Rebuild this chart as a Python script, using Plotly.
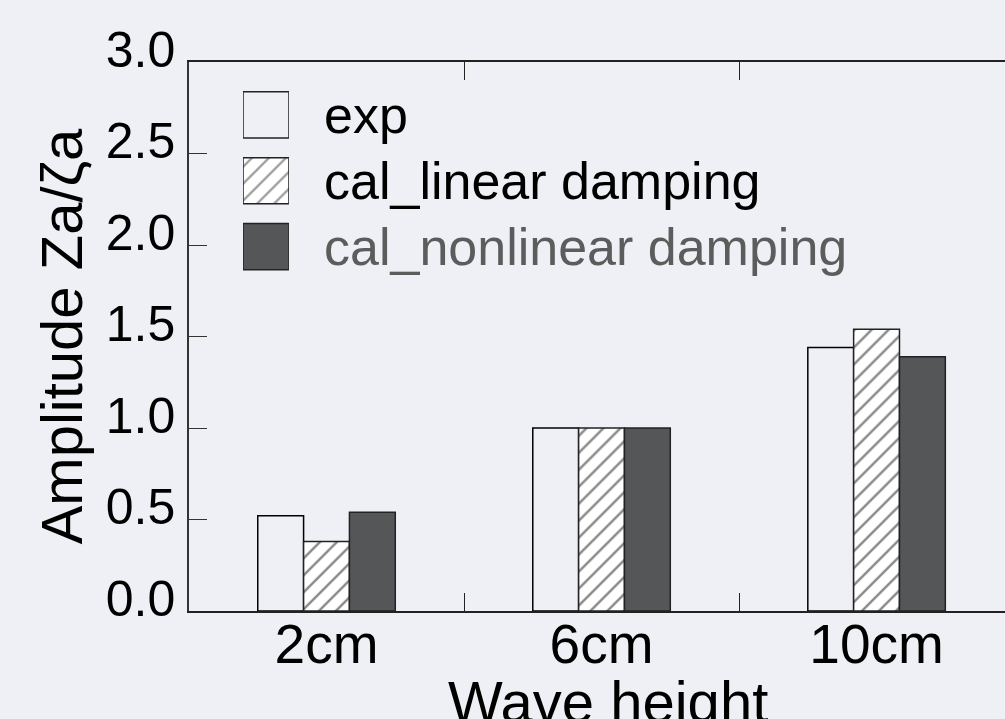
import plotly.graph_objects as go

# Wave heights tested
categories = ["2cm", "6cm", "10cm"]

# Heave amplitude ratio Za/ζa per wave height
exp_vals = [0.52, 1.00, 1.44]
cal_linear_vals = [0.38, 1.00, 1.54]
cal_nonlinear_vals = [0.54, 1.00, 1.39]

series_names = ["exp", "cal_linear damping", "cal_nonlinear damping"]
y_ticks = [0.0, 0.5, 1.0, 1.5, 2.0, 2.5, 3.0]

BG = "#eff0f5"
DARK = "#555658"
FONT = "Arial, Liberation Sans, sans-serif"

HATCH = dict(shape="/", bgcolor="white", fgcolor="#111", size=12, solidity=0.2)

styles = {
    "exp": dict(color=BG, line=dict(color="black", width=1.5)),
    "cal_linear damping": dict(color="white", line=dict(color="#222", width=1.5),
                               pattern=HATCH),
    "cal_nonlinear damping": dict(color=DARK, line=dict(color="#222", width=1.5)),
}

fig = go.Figure()

for name, vals in zip(series_names, [exp_vals, cal_linear_vals, cal_nonlinear_vals]):
    fig.add_trace(go.Bar(
        x=categories, y=vals, name=name, marker=styles[name],
        xaxis="x", yaxis="y", showlegend=False,
    ))

# Legend key: one unit-length horizontal bar per series on its own small axes
fig.add_trace(go.Bar(
    y=series_names, x=[1, 1, 1], orientation="h", width=0.7,
    marker=dict(
        color=[BG, "white", DARK],
        line=dict(color="#222", width=1.5),
        pattern=dict(shape=["", "/", ""], bgcolor="white", fgcolor="#111",
                     size=12, solidity=0.2),
    ),
    xaxis="x2", yaxis="y2", showlegend=False, hoverinfo="skip",
))

label_colors = {"exp": "black", "cal_linear damping": "black",
                "cal_nonlinear damping": "#5c5c5c"}
for name in series_names:
    fig.add_annotation(
        text=name, xref="paper", x=0.163, yref="y2", y=name,
        xanchor="left", yanchor="middle", showarrow=False,
        font=dict(size=52, color=label_colors[name], family=FONT),
    )

# x-axis title sits low, running off the bottom edge of the page
fig.add_annotation(
    text="Wave height", xref="paper", x=0.5135, yref="paper", y=-0.164,
    xanchor="center", yanchor="middle", showarrow=False,
    font=dict(size=58, family=FONT, color="black"),
)

fig.update_layout(
    width=1005, height=719,
    margin=dict(l=189, r=0, t=62, b=108, autoexpand=False),
    paper_bgcolor=BG, plot_bgcolor=BG,
    barmode="group", bargap=0.5, bargroupgap=0,
    font=dict(family=FONT, color="black"),
    showlegend=False,
    xaxis=dict(
        type="category", range=[-0.5, 2.467], automargin=False,
        tickson="boundaries", ticks="inside", ticklen=18, tickwidth=1.2,
        tickcolor="#222", showline=True, linecolor="#222", linewidth=1.5,
        mirror="ticks", showgrid=False, zeroline=False, ticklabelstandoff=-16,
        tickfont=dict(size=55, family=FONT, color="black"),
    ),
    yaxis=dict(
        range=[0, 3], tickvals=y_ticks, tickformat=".1f", automargin=False,
        ticks="inside", ticklen=18, tickwidth=1.2, tickcolor="#333",
        showline=True, linecolor="#333", linewidth=1.5,
        showgrid=False, zeroline=False, ticklabelstandoff=2, ticklabelshift=-13,
        tickfont=dict(size=50, family=FONT, color="black"),
        title=dict(text="Amplitude Za/ζa", font=dict(size=58, family=FONT, color="black"),
                   standoff=4),
    ),
    yaxis3=dict(
        range=[0, 3], tickvals=y_ticks, overlaying="y", side="right", anchor="x",
        ticks="inside", ticklen=10, tickwidth=1.2, tickcolor="#333",
        showticklabels=False, showline=False, showgrid=False, zeroline=False,
    ),
    xaxis2=dict(domain=[0.0662, 0.1225], range=[0, 1], anchor="y2",
                visible=False, fixedrange=True),
    yaxis2=dict(domain=[0.6038, 0.9636], anchor="x2", type="category",
                categoryorder="array", categoryarray=series_names[::-1],
                range=[-0.5, 2.5], visible=False, fixedrange=True),
)

fig.write_html("out.html")
